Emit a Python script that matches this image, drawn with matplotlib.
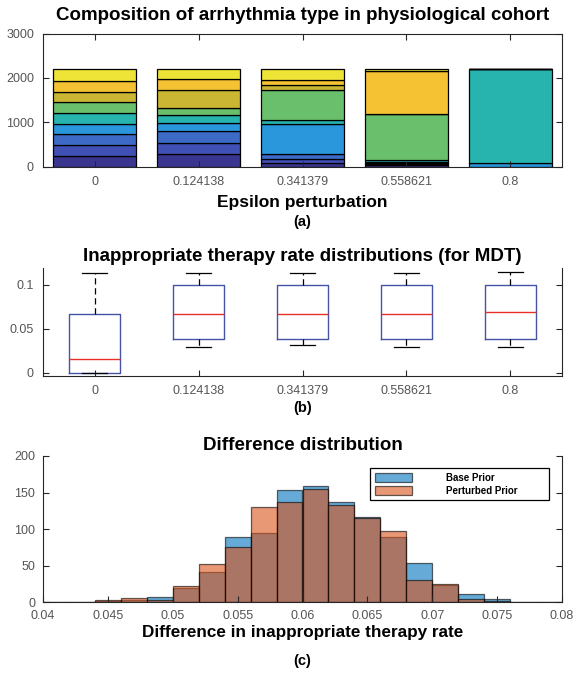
import numpy as np
import matplotlib
matplotlib.use("Agg")
import matplotlib.pyplot as plt

plt.rcParams['font.family'] = ['Liberation Sans', 'DejaVu Sans']

W, H = 576, 674

eps_labels = ['0', '0.124138', '0.341379', '0.558621', '0.8']

# arrhythmia type counts for each epsilon value, stacked bottom -> top
type_colors = ['#3a3690', '#4150b4', '#3c6ac6', '#2a96dc', '#28b4ae',
               '#69bf6c', '#cbb633', '#f4c232', '#eee437']
counts_eps0 = [235, 239, 253, 239, 247, 252, 224, 246, 265]
counts_eps1 = [280, 252, 262, 186, 172, 172, 410, 239, 227]
counts_eps2 = [85, 76, 112, 678, 105, 671, 119, 105, 249]
counts_eps3 = [25, 25, 25, 25, 45, 1030, 20, 970, 35]
counts_eps4 = [0, 0, 0, 85, 2115, 0, 0, 0, 0]

# inappropriate therapy rate box summaries (MDT)
box_whislo = [0.0, 0.0297, 0.0312, 0.0297, 0.0297]
box_q1 = [0.0, 0.0388, 0.0388, 0.0388, 0.0388]
box_med = [0.0153, 0.0669, 0.0669, 0.0669, 0.0689]
box_q3 = [0.0666, 0.0995, 0.0995, 0.0995, 0.0995]
box_whishi = [0.1135, 0.1142, 0.1133, 0.1142, 0.1148]

# difference histogram
hist_edges = np.linspace(0.04, 0.08, 21)
base_counts = [1, 0, 2, 3, 7, 19, 41, 89, 95, 153, 159, 137, 116, 89, 54, 24, 12, 5, 1, 1]
pert_counts = [1, 0, 3, 6, 3, 22, 53, 76, 130, 137, 155, 133, 115, 97, 30, 25, 4, 2, 1, 1]
hist_ticks = [0.04, 0.045, 0.05, 0.055, 0.06, 0.065, 0.07, 0.075, 0.08]
hist_ticklabels = ['0.04', '0.045', '0.05', '0.055', '0.06', '0.065', '0.07', '0.075', '0.08']

TICK_COLOR = '#555555'
SPINE_COLOR = '#262626'


def px_box(top, bottom, left=43, right=562):
    """Convert pixel box to figure fraction rect."""
    return [left / W, 1 - bottom / H, (right - left) / W, (bottom - top) / H]


def fig_label(fig, y_px, text, size, x_px=302.5):
    fig.text(x_px / W, 1 - y_px / H, text, ha='center', va='center',
             fontsize=size, fontweight='bold', color='black')


def style_axes(ax, top_spine=True, pad=6.5):
    for side in ['left', 'right', 'bottom', 'top']:
        ax.spines[side].set_color(SPINE_COLOR)
        ax.spines[side].set_linewidth(0.8)
    ax.spines['top'].set_visible(top_spine)
    ax.tick_params(direction='in', length=4, width=0.8, colors=SPINE_COLOR,
                   labelcolor=TICK_COLOR, labelsize=9, pad=pad,
                   right=True, top=top_spine)


fig = plt.figure(figsize=(W / 100, H / 100), dpi=100)

# (a) stacked composition bars
ax_a = fig.add_axes(px_box(33.5, 166.5))
x = np.arange(1, len(eps_labels) + 1)
comp = np.array([counts_eps0, counts_eps1, counts_eps2, counts_eps3, counts_eps4])
bottoms = np.zeros(len(x))
for j, color in enumerate(type_colors):
    ax_a.bar(x, comp[:, j], bottom=bottoms, width=0.8, color=color,
             edgecolor='black', linewidth=0.9)
    bottoms += comp[:, j]
ax_a.set_xlim(0.5, 5.5)
ax_a.set_ylim(0, 3000)
ax_a.set_yticks([0, 1000, 2000, 3000])
ax_a.set_xticks(x)
ax_a.set_xticklabels(eps_labels)
style_axes(ax_a)

# (b) boxplots
ax_b = fig.add_axes(px_box(268.3, 375.7))
stats = []
for i in range(len(eps_labels)):
    stats.append({'whislo': box_whislo[i], 'q1': box_q1[i], 'med': box_med[i],
                  'q3': box_q3[i], 'whishi': box_whishi[i], 'fliers': []})
ax_b.bxp(stats, positions=x, widths=0.49, capwidths=0.24, showfliers=False,
         boxprops=dict(color='#4652a4', linewidth=1.0),
         medianprops=dict(color='#e8302a', linewidth=1.0),
         whiskerprops=dict(color='black', linewidth=0.9, linestyle=(0, (5, 3))),
         capprops=dict(color='black', linewidth=0.9))
ax_b.set_xlim(0.5, 5.5)
ax_b.set_ylim(-0.0034, 0.119)
ax_b.set_yticks([0, 0.05, 0.1])
ax_b.set_yticklabels(['0', '0.05', '0.1'])
ax_b.set_xticks(x)
ax_b.set_xticklabels(eps_labels)
style_axes(ax_b, top_spine=False)

# (c) difference histograms
ax_c = fig.add_axes(px_box(456, 602.3))
ax_c.hist(hist_edges[:-1], bins=hist_edges, weights=base_counts,
          color=(0, 0.447, 0.741), alpha=0.6, edgecolor='black', linewidth=0.9,
          label='Base Prior')
ax_c.hist(hist_edges[:-1], bins=hist_edges, weights=pert_counts,
          color=(0.85, 0.325, 0.098), alpha=0.6, edgecolor='black', linewidth=0.9,
          label='Perturbed Prior')
ax_c.set_xlim(0.04, 0.08)
ax_c.set_ylim(0, 200)
ax_c.set_yticks([0, 50, 100, 150, 200])
ax_c.set_xticks(hist_ticks)
ax_c.set_xticklabels(hist_ticklabels)
style_axes(ax_c, top_spine=False, pad=5.5)
leg = ax_c.legend(loc='upper left', bbox_to_anchor=(0.631, 0.699, 0.343, 0.217),
                  mode='expand', borderaxespad=0, fancybox=False, framealpha=1,
                  edgecolor='black', prop={'size': 7, 'weight': 'bold'},
                  handlelength=3.8, handleheight=1.0, handletextpad=3.5,
                  labelspacing=0.35, borderpad=0.45)
leg.get_frame().set_linewidth(0.9)

# titles and labels
fig_label(fig, 15, 'Composition of arrhythmia type in physiological cohort', 13.5)
fig_label(fig, 202, 'Epsilon perturbation', 12.5)
fig_label(fig, 222, '(a)', 10.5)
fig_label(fig, 256.7, 'Inappropriate therapy rate distributions (for MDT)', 13.5)
fig_label(fig, 408, '(b)', 10.5)
fig_label(fig, 446, 'Difference distribution', 13.5)
fig_label(fig, 633, 'Difference in inappropriate therapy rate', 12.3)
fig_label(fig, 661, '(c)', 10.5)

fig.savefig('out.png', dpi=100)
